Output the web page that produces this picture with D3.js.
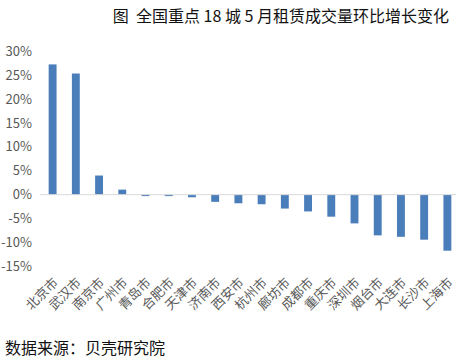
<!DOCTYPE html>
<html>
<head>
<meta charset="utf-8">
<script src="https://cdn.jsdelivr.net/npm/d3@7"></script>
<style>
  body { margin: 0; background: #fff; }
  text { font-family: "Microsoft YaHei", "Noto Sans CJK SC", sans-serif; }
</style>
</head>
<body>
<div class="svgContainer"></div>
<script>
const cities = ['北京市', '武汉市', '南京市', '广州市', '青岛市', '合肥市', '天津市', '济南市', '西安市',
  '杭州市', '廊坊市', '成都市', '重庆市', '深圳市', '烟台市', '大连市', '长沙市', '上海市'];
const growth = [27.2, 25.3, 4.0, 1.05, -0.3, -0.3, -0.55, -1.5, -1.8,
  -2.0, -2.9, -3.5, -4.6, -6.0, -8.5, -8.8, -9.4, -11.7];
const yTicks = [-15, -10, -5, 0, 5, 10, 15, 20, 25, 30];

const width = 456;
const height = 362;

const svg = d3.select('.svgContainer').append('svg')
  .attr('width', width)
  .attr('height', height);

const scaleX = d3.scaleBand()
  .domain(cities)
  .range([41, 459])
  .paddingInner(0.66)
  .paddingOuter(0.33);

const scaleY = d3.scaleLinear()
  .domain([-15, 30])
  .range([266.5, 51]);

// title
svg.append('text')
  .attr('x', 449)
  .attr('y', 22)
  .attr('text-anchor', 'end')
  .attr('font-size', 16)
  .attr('fill', '#111')
  .style('white-space', 'pre')
  .text('图  全国重点 18 城 5 月租赁成交量环比增长变化');

// y axis labels only
const yAxis = d3.axisLeft(scaleY)
  .tickValues(yTicks)
  .tickSize(0)
  .tickPadding(0)
  .tickFormat(d => d + '%');

svg.append('g')
  .attr('class', 'y-axis')
  .attr('transform', 'translate(32,0)')
  .call(yAxis)
  .call(g => g.select('.domain').remove())
  .selectAll('text')
  .attr('font-size', 13)
  .attr('fill', '#595959')
  .style('font-family', '"Microsoft YaHei", "Noto Sans CJK SC", sans-serif');

// bars
svg.selectAll('rect.bar')
  .data(cities)
  .enter()
  .append('rect')
  .attr('class', 'bar')
  .attr('fill', '#4a7ebb')
  .attr('x', d => scaleX(d))
  .attr('width', scaleX.bandwidth())
  .attr('y', (d, i) => scaleY(Math.max(0, growth[i])))
  .attr('height', (d, i) => Math.abs(scaleY(growth[i]) - scaleY(0)));

// zero line
svg.append('line')
  .attr('x1', 40)
  .attr('x2', 456)
  .attr('y1', scaleY(0))
  .attr('y2', scaleY(0))
  .attr('stroke', '#d9d9d9')
  .attr('stroke-width', 1);

// x labels, rotated
const xAxis = d3.axisBottom(scaleX).tickSize(0).tickPadding(0);

svg.append('g')
  .attr('class', 'x-axis')
  .attr('transform', 'translate(3,280)')
  .call(xAxis)
  .call(g => g.select('.domain').remove())
  .selectAll('text')
  .attr('font-size', 13)
  .attr('fill', '#595959')
  .attr('text-anchor', 'end')
  .attr('dy', '0.35em')
  .attr('transform', 'rotate(-45)')
  .style('font-family', '"Microsoft YaHei", "Noto Sans CJK SC", sans-serif');

// source
svg.append('text')
  .attr('x', 5)
  .attr('y', 354)
  .attr('font-size', 16)
  .attr('fill', '#111')
  .text('数据来源：贝壳研究院');
</script>
</body>
</html>
